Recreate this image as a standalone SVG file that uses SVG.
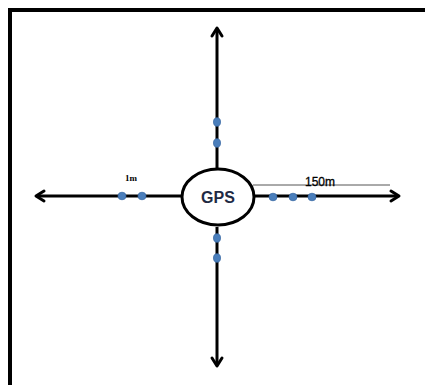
<svg xmlns="http://www.w3.org/2000/svg" width="425" height="385" viewBox="0 0 425 385">
<defs>
<style>
.ax{stroke:#000;stroke-width:3;fill:none}
.ah{stroke:#000;stroke-width:3;fill:none;stroke-linecap:round;stroke-linejoin:round}
.dot{fill:#4a7ebb;stroke:#3a6aa5;stroke-width:0.8}
.lbl{font-family:"Liberation Serif",serif;font-weight:bold;font-size:9px;fill:#000}
</style>
</defs>
<rect width="425" height="385" fill="#fff"/>
<path d="M10,385 V10 H425" fill="none" stroke="#000" stroke-width="4"/>
<g id="connectors">
<line class="ax" x1="217" y1="29" x2="217" y2="170"/>
<path class="ah" d="M212,36 L217,28 L222,36"/>
<line class="ax" x1="217" y1="227" x2="217" y2="365"/>
<path class="ah" d="M212,358 L217,366 L222,358"/>
<line class="ax" x1="37" y1="196" x2="181" y2="196"/>
<path class="ah" d="M44,191 L36,196 L44,201"/>
<line class="ax" x1="254" y1="196" x2="398" y2="196"/>
<path class="ah" d="M391,191 L399,196 L391,201"/>
<line x1="253" y1="185" x2="390" y2="185" stroke="#555" stroke-width="1"/>
<line x1="122" y1="193.5" x2="142" y2="193.5" stroke="#fff" stroke-width="1"/>
</g>
<g id="gps">
<ellipse cx="218" cy="197" rx="36" ry="28" fill="#fff" stroke="#000" stroke-width="3"/>
<text x="218" y="203" text-anchor="middle" font-family="'Liberation Sans',Arial,sans-serif" font-weight="bold" font-size="16" fill="#1f2a44">GPS</text>
</g>
<g id="dots">
<ellipse class="dot" cx="217" cy="122" rx="3.5" ry="4.2"/>
<ellipse class="dot" cx="217" cy="143" rx="3.5" ry="4.2"/>
<ellipse class="dot" cx="217" cy="238" rx="3.5" ry="4.2"/>
<ellipse class="dot" cx="217" cy="258" rx="3.5" ry="4.2"/>
<ellipse class="dot" cx="122" cy="196" rx="4" ry="3.8"/>
<ellipse class="dot" cx="142" cy="196" rx="4" ry="3.8"/>
<ellipse class="dot" cx="273" cy="197" rx="4" ry="3.8"/>
<ellipse class="dot" cx="293" cy="197" rx="4" ry="3.8"/>
<ellipse class="dot" cx="312" cy="197" rx="4" ry="3.8"/>
</g>
<g id="labels">
<text class="lbl" x="131" y="181" text-anchor="middle">1m</text>
<text x="320" y="186" text-anchor="middle" font-family="'Liberation Sans',Arial,sans-serif" font-size="12" fill="#000" stroke="#000" stroke-width="0.3">150m</text>
</g>
</svg>
